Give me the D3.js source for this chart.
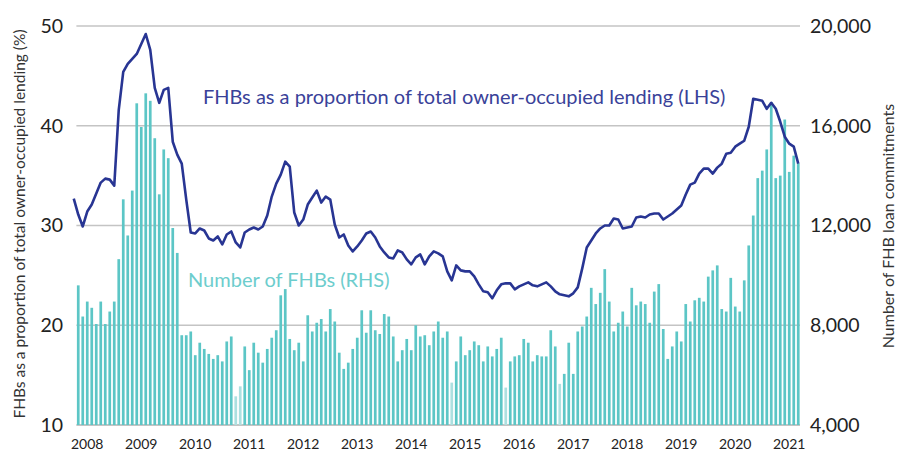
<!DOCTYPE html>
<html>
<head>
<meta charset="utf-8">
<script src="https://cdn.jsdelivr.net/npm/d3@7"></script>
<style>
  html, body { margin: 0; padding: 0; background: #fff; }
  svg { display: block; font-family: Lato, "Open Sans", sans-serif; }
</style>
</head>
<body>
<div id="chart"></div>
<script>
// Monthly, Oct 2007 - Mar 2021
const startMonth = new Date(2007, 9, 1);
const endMonth = new Date(2021, 2, 1);

// FHBs as a share of owner-occupied lending, % (LHS)
const fhbShare = [
  32.7, 31.1, 29.9, 31.4, 32.1, 33.2, 34.3, 34.7, 34.6, 34.0,
  41.6, 45.4, 46.2, 46.7, 47.2, 48.2, 49.2, 47.6, 43.8, 42.3,
  43.6, 43.8, 38.4, 37.1, 36.2, 32.6, 29.3, 29.2, 29.7, 29.5,
  28.7, 28.5, 28.9, 28.1, 29.1, 29.4, 28.3, 27.8, 29.3, 29.6,
  29.8, 29.6, 29.9, 31.0, 32.9, 34.2, 35.1, 36.4, 35.9, 31.3,
  30.0, 30.6, 32.1, 32.8, 33.5, 32.3, 32.9, 32.6, 30.1, 28.8,
  29.1, 28.0, 27.4, 27.9, 28.5, 29.2, 29.4, 28.8, 27.9, 27.3,
  26.8, 26.7, 27.5, 27.3, 26.6, 26.1, 26.8, 27.1, 26.1, 26.9,
  27.4, 27.2, 26.9, 25.4, 24.5, 26.0, 25.5, 25.4, 25.4, 24.9,
  24.1, 23.4, 23.3, 22.7, 23.5, 24.1, 24.2, 24.2, 23.6, 23.9,
  24.1, 24.3, 24.0, 23.9, 24.1, 24.3, 23.9, 23.4, 23.1, 23.0,
  22.9, 23.2, 23.8, 25.7, 27.8, 28.5, 29.2, 29.7, 30.0, 30.0,
  30.7, 30.6, 29.7, 29.8, 29.9, 30.8, 30.9, 30.8, 31.1, 31.2,
  31.2, 30.6, 30.9, 31.2, 31.6, 32.0, 33.1, 34.1, 34.3, 35.2,
  35.7, 35.7, 35.2, 35.8, 36.2, 37.2, 37.3, 37.9, 38.2, 38.5,
  39.9, 42.7, 42.6, 42.5, 41.7, 42.3, 41.7, 40.4, 38.9, 38.2,
  37.9, 36.2
];

// Number of FHB loan commitments (RHS); no bar for Oct 2007
const fhbCount = [
  null,
  9600, 8350, 8950, 8700, 8050, 8950, 8050, 8550, 8950, 10650,
  13050, 11600, 13400, 16900, 15950, 17300, 17000, 15500, 13250, 15050,
  14700, 11900, 10900, 7600, 7600, 7750, 6800, 7300, 7050, 6850,
  6650, 6800, 6550, 7350, 7550, 5150, 5550, 7150, 6200, 7300,
  6900, 6500, 7050, 7500, 7800, 9200, 9450, 7450, 7000, 7300,
  6550, 8400, 7750, 8100, 8250, 7750, 8650, 8150, 6900, 6250,
  6500, 7050, 7500, 8600, 7700, 8600, 7800, 7650, 8450, 8350,
  7550, 6550, 7000, 7450, 7000, 8000, 7550, 7600, 7200, 7750,
  8150, 7500, 7750, 5700, 6550, 7550, 6800, 7000, 7350, 7200,
  6550, 7150, 6750, 7050, 7500, 5500, 6550, 6750, 6800, 7450,
  7300, 6550, 6800, 6750, 6750, 7800, 7150, 5650, 6050, 7300,
  6050, 7750, 7950, 8350, 9500, 8850, 9300, 10250, 8950, 7750,
  8100, 8550, 7950, 9500, 8800, 8950, 8850, 8100, 9350, 9650,
  7850, 6650, 7150, 7750, 7350, 8850, 8150, 9000, 9100, 8950,
  9950, 10200, 10400, 8650, 8550, 9900, 8750, 8550, 9800, 11200,
  12400, 13900, 14200, 15050, 16950, 13900, 14000, 16250, 14150, 14800,
  14500
];

// months shown in the paler shade
const paleMonths = ["2010-10", "2010-11", "2014-10", "2015-10", "2016-10"];

const leftTicks = [10, 20, 30, 40, 50];
const rightTicks = [4000, 8000, 12000, 16000, 20000];
const yearLabels = [2008, 2009, 2010, 2011, 2012, 2013, 2014, 2015, 2016, 2017, 2018, 2019, 2020, 2021];

const width = 906, height = 453;
const fmtMonth = d3.timeFormat("%Y-%m");
const months = d3.timeMonth.range(startMonth, d3.timeMonth.offset(endMonth, 1)).map(fmtMonth);

const data = months.map((m, i) => ({ month: m, share: fhbShare[i], count: fhbCount[i] }));

const svg = d3.select("#chart").append("svg")
    .attr("width", width)
    .attr("height", height);

const x = d3.scaleBand()
    .domain(months)
    .range([71.5, 800.5])
    .paddingInner(0.4)
    .paddingOuter(0.2);

const yLeft = d3.scaleLinear().domain([10, 50]).range([425, 26]);
const yRight = d3.scaleLinear().domain([4000, 20000]).range([425, 26]);

const plotLeft = x(months[1]) - 0.5;
const plotRight = 800;

// gridlines
svg.append("g")
    .selectAll("line")
    .data(leftTicks)
    .enter()
    .append("line")
    .attr("x1", plotLeft)
    .attr("x2", plotRight)
    .attr("y1", d => yLeft(d))
    .attr("y2", d => yLeft(d))
    .style("stroke", "#c4c4c4")
    .style("stroke-width", d => d === 10 ? 2 : 1.5);

// bars (RHS)
svg.append("g")
    .selectAll("rect")
    .data(data.filter(d => d.count != null))
    .enter()
    .append("rect")
    .attr("x", d => x(d.month))
    .attr("width", x.bandwidth())
    .attr("y", d => yRight(d.count))
    .attr("height", d => yRight(4000) - yRight(d.count))
    .style("fill", d => paleMonths.includes(d.month) ? "#ace0e0" : "#5cc6c6");

// line (LHS)
const line = d3.line()
    .x(d => x(d.month) + x.bandwidth() / 2)
    .y(d => yLeft(d.share));

svg.append("path")
    .datum(data)
    .attr("d", line)
    .style("fill", "none")
    .style("stroke", "#283593")
    .style("stroke-width", 2.6)
    .style("stroke-linejoin", "round");

// left tick labels
svg.append("g")
    .selectAll("text")
    .data(leftTicks)
    .enter()
    .append("text")
    .attr("x", 63)
    .attr("y", d => yLeft(d))
    .attr("dy", "0.35em")
    .attr("text-anchor", "end")
    .style("font-size", "19.5px")
    .style("fill", "#222")
    .text(d => d);

// right tick labels
svg.append("g")
    .selectAll("text")
    .data(rightTicks)
    .enter()
    .append("text")
    .attr("x", 810)
    .attr("y", d => yRight(d))
    .attr("dy", "0.35em")
    .attr("text-anchor", "start")
    .style("font-size", "19.5px")
    .style("fill", "#222")
    .text(d => d3.format(",")(d));

// year labels, centred on January
svg.append("g")
    .selectAll("text")
    .data(yearLabels)
    .enter()
    .append("text")
    .attr("x", d => x(d + "-01") + x.bandwidth() / 2)
    .attr("y", 449)
    .attr("text-anchor", "middle")
    .style("font-size", "14px")
    .style("fill", "#222")
    .text(d => d);

// axis titles
svg.append("text")
    .attr("transform", "translate(25, 224) rotate(-90)")
    .attr("text-anchor", "middle")
    .style("font-size", "15.5px")
    .style("fill", "#333")
    .text("FHBs as a proportion of total owner-occupied lending (%)");

svg.append("text")
    .attr("transform", "translate(894, 226) rotate(-90)")
    .attr("text-anchor", "middle")
    .style("font-size", "16px")
    .style("fill", "#333")
    .text("Number of FHB loan commitments");

// series annotations
svg.append("text")
    .attr("x", 203)
    .attr("y", 104)
    .style("font-size", "20px")
    .style("fill", "#3a4299")
    .text("FHBs as a proportion of total owner-occupied lending (LHS)");

svg.append("text")
    .attr("x", 188)
    .attr("y", 287)
    .style("font-size", "20px")
    .style("fill", "#6dcdcd")
    .text("Number of FHBs (RHS)");
</script>
</body>
</html>
